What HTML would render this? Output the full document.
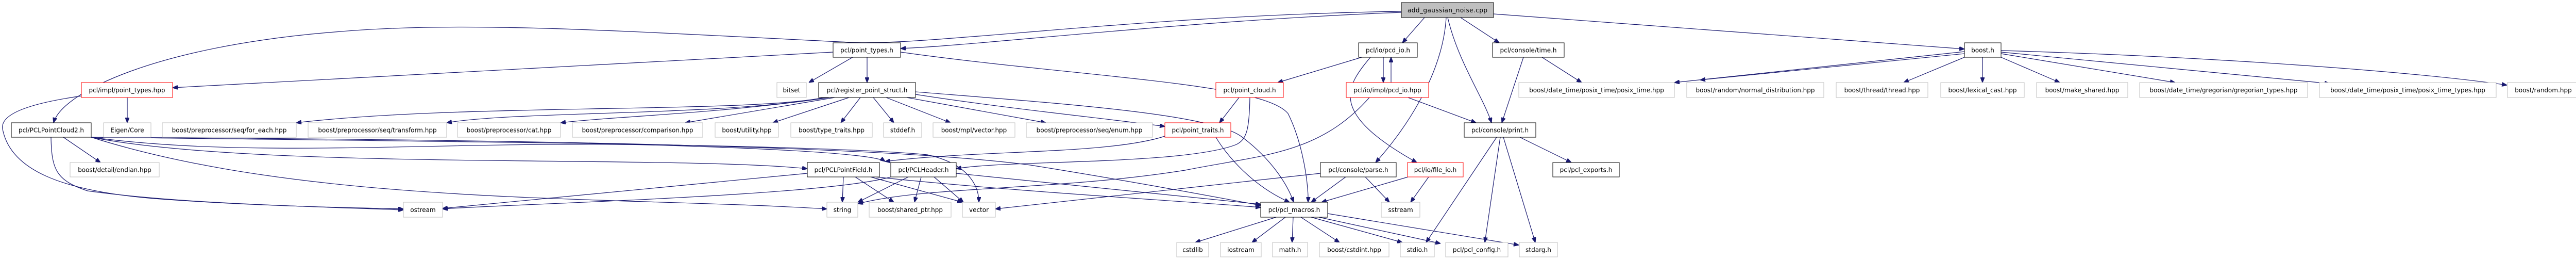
<!DOCTYPE html>
<html><head><meta charset="utf-8"><style>
html,body{margin:0;padding:0;background:#fff;}
svg{display:block;}
text{font-family:"DejaVu Sans","Liberation Sans",sans-serif;font-size:12px;fill:#000;}
.n rect{fill:#fff;stroke-width:1;}
.k{stroke:#000;} .r{stroke:#ff0000;} .g{stroke:#bfbfbf;}
path{fill:none;stroke:#191970;stroke-width:1.2;}
</style></head><body>
<svg width="5012" height="504" viewBox="0 0 5012 504" xmlns="http://www.w3.org/2000/svg">
<defs><marker id="a" viewBox="0 0 10 8" refX="10" refY="4" markerWidth="10" markerHeight="8" markerUnits="userSpaceOnUse" orient="auto"><path d="M0,0 L10,4 L0,8 z" style="fill:#191970;stroke:#191970"/></marker></defs>
<g marker-end="url(#a)">
<!-- from add_gaussian_noise.cpp -->
<path d="M2720,24 C2300,40 1900,88 1748,94"/>
<path d="M2720,22 C2200,30 1800,90 1650,82 C1200,60 900,40 650,62 C300,90 120,180 104,238"/>
<path d="M2765,34 L2722,83"/>
<path d="M2810,34 C2830,120 2880,190 2895,238"/>
<path d="M2835,34 L2910,83"/>
<path d="M2807,34 C2800,150 2720,260 2670,315"/>
<path d="M2899,27 L3813,95"/>
<!-- point_types.h -->
<path d="M1617,101 L335,170"/>
<path d="M1655,111 L1570,160"/>
<path d="M1683,111 L1683,160"/>
<path d="M1748,101 C2100,150 2450,160 2500,220 C2530,280 2540,360 2539,392"/>
<!-- register_point_struct -->
<path d="M1600,189 C1450,220 900,200 575,238"/>
<path d="M1605,189 C1400,225 1000,215 867,238"/>
<path d="M1610,189 C1400,220 1200,225 1088,238"/>
<path d="M1620,189 L1330,238"/>
<path d="M1648,189 L1500,238"/>
<path d="M1670,189 L1632,238"/>
<path d="M1695,189 L1735,238"/>
<path d="M1720,189 L1845,238"/>
<path d="M1760,189 L2030,238"/>
<path d="M1777,183 C1950,210 2150,230 2261,245"/>
<path d="M1777,178 C2050,200 2350,220 2410,265 C2470,310 2500,360 2511,392"/>
<!-- impl/point_types.hpp -->
<path d="M247,189 L247,238"/>
<path d="M158,186 C60,200 0,220 5,250 C20,330 120,370 300,385 C500,400 700,403 783,405"/>
<!-- PCLPointCloud2 -->
<path d="M123,266 L195,315"/>
<path d="M99,266 C100,330 110,350 170,370 C350,395 600,400 783,407"/>
<path d="M177,266 C600,400 1200,380 1605,405"/>
<path d="M177,266 C500,330 1300,300 1567,327"/>
<path d="M177,266 C500,310 900,270 1300,282 C1550,290 1700,300 1718,313"/>
<path d="M177,266 C900,275 1600,280 1800,300 C1890,320 1900,370 1900,392"/>
<path d="M177,266 C900,270 1700,280 2000,320 C2250,360 2400,390 2447,398"/>
<!-- PCLPointField -->
<path d="M1567,336 L859,404"/>
<path d="M1637,343 L1635,392"/>
<path d="M1660,343 L1735,392"/>
<path d="M1690,343 L1868,392"/>
<path d="M1700,343 C1950,370 2300,390 2447,402"/>
<!-- PCLHeader -->
<path d="M1729,343 C1600,380 1000,395 859,405"/>
<path d="M1763,343 L1665,392"/>
<path d="M1788,343 L1775,392"/>
<path d="M1813,343 L1870,392"/>
<path d="M1856,336 L2447,396"/>
<!-- point_cloud.h -->
<path d="M2405,189 L2367,238"/>
<path d="M2426,189 C2425,250 2420,270 2400,280 C2300,320 1950,310 1856,327"/>
<!-- point_traits -->
<path d="M2261,264 C2150,300 1900,290 1718,313"/>
<path d="M2360,266 C2380,300 2430,360 2503,392"/>
<!-- pcd_io.h -->
<path d="M2643,111 L2480,160"/>
<path d="M2685,111 L2685,160"/>
<path d="M2700,160 L2700,111"/>
<path d="M2660,111 C2610,170 2580,220 2750,315"/>
<!-- pcd_io.hpp -->
<path d="M2733,189 L2865,238"/>
<path d="M2658,189 C2560,300 2450,300 2300,330 C2050,370 1800,360 1665,395"/>
<!-- file_io, parse -->
<path d="M2733,343 L2565,392"/>
<path d="M2773,343 L2738,392"/>
<path d="M2563,336 L1932,405"/>
<path d="M2612,343 L2545,392"/>
<path d="M2650,343 L2697,392"/>
<!-- time.h -->
<path d="M2957,111 L2915,238"/>
<path d="M2993,111 L3070,160"/>
<!-- boost.h -->
<path d="M3813,100 L3250,160"/>
<path d="M3813,104 L3300,155"/>
<path d="M3813,111 L3695,160"/>
<path d="M3848,111 L3848,160"/>
<path d="M3884,111 L3998,160"/>
<path d="M3884,104 L4222,160"/>
<path d="M3884,101 L4522,162"/>
<path d="M3884,98 C4300,110 4700,140 4866,165"/>
<!-- print.h -->
<path d="M2950,266 L3050,315"/>
<path d="M2905,266 L2768,470"/>
<path d="M2912,266 L2882,470"/>
<path d="M2918,266 L2980,470"/>
<!-- pcl_macros -->
<path d="M2477,421 L2320,470"/>
<path d="M2495,421 L2430,470"/>
<path d="M2510,421 L2508,470"/>
<path d="M2525,421 L2600,470"/>
<path d="M2545,421 L2722,470"/>
<path d="M2560,421 L2796,472"/>
<path d="M2577,414 L2948,475"/>
</g>
<g class="n">
<rect x="2720" y="5" width="179" height="29" class="k" style="fill:#bfbfbf"/><text x="2809.5" y="24" text-anchor="middle" textLength="155">add_gaussian_noise.cpp</text>
<rect x="1617" y="83" width="131" height="28" class="k"/><text x="1682.5" y="101.5" text-anchor="middle">pcl/point_types.h</text>
<rect x="2637" y="83" width="114" height="28" class="k"/><text x="2694" y="101.5" text-anchor="middle">pcl/io/pcd_io.h</text>
<rect x="2897" y="83" width="139" height="28" class="k"/><text x="2966.5" y="101.5" text-anchor="middle">pcl/console/time.h</text>
<rect x="3813" y="83" width="71" height="28" class="k"/><text x="3848.5" y="101.5" text-anchor="middle">boost.h</text>
<rect x="158" y="160" width="177" height="29" class="r"/><text x="246.5" y="179" text-anchor="middle">pcl/impl/point_types.hpp</text>
<rect x="1508" y="160" width="57" height="29" class="g"/><text x="1536.5" y="179" text-anchor="middle">bitset</text>
<rect x="1589" y="160" width="188" height="29" class="k"/><text x="1683" y="179" text-anchor="middle">pcl/register_point_struct.h</text>
<rect x="2360" y="160" width="131" height="29" class="r"/><text x="2425.5" y="179" text-anchor="middle">pcl/point_cloud.h</text>
<rect x="2613" y="160" width="160" height="29" class="r"/><text x="2693" y="179" text-anchor="middle">pcl/io/impl/pcd_io.hpp</text>
<rect x="2948" y="160" width="302" height="29" class="g"/><text x="3099" y="179" text-anchor="middle">boost/date_time/posix_time/posix_time.hpp</text>
<rect x="3274" y="160" width="266" height="29" class="g"/><text x="3407" y="179" text-anchor="middle">boost/random/normal_distribution.hpp</text>
<rect x="3564" y="160" width="178" height="29" class="g"/><text x="3653" y="179" text-anchor="middle">boost/thread/thread.hpp</text>
<rect x="3767" y="160" width="162" height="29" class="g"/><text x="3848" y="179" text-anchor="middle">boost/lexical_cast.hpp</text>
<rect x="3953" y="160" width="177" height="29" class="g"/><text x="4041.5" y="179" text-anchor="middle">boost/make_shared.hpp</text>
<rect x="4153" y="160" width="326" height="29" class="g"/><text x="4316" y="179" text-anchor="middle">boost/date_time/gregorian/gregorian_types.hpp</text>
<rect x="4502" y="160" width="343" height="29" class="g"/><text x="4673.5" y="179" text-anchor="middle">boost/date_time/posix_time/posix_time_types.hpp</text>
<rect x="4867" y="160" width="139" height="29" class="g"/><text x="4936.5" y="179" text-anchor="middle">boost/random.hpp</text>
<rect x="22" y="238" width="155" height="28" class="k"/><text x="99.5" y="256.5" text-anchor="middle">pcl/PCLPointCloud2.h</text>
<rect x="201" y="238" width="92" height="28" class="g"/><text x="247" y="256.5" text-anchor="middle">Eigen/Core</text>
<rect x="315" y="238" width="260" height="28" class="g"/><text x="445" y="256.5" text-anchor="middle">boost/preprocessor/seq/for_each.hpp</text>
<rect x="598" y="238" width="269" height="28" class="g"/><text x="732.5" y="256.5" text-anchor="middle">boost/preprocessor/seq/transform.hpp</text>
<rect x="888" y="238" width="200" height="28" class="g"/><text x="988" y="256.5" text-anchor="middle">boost/preprocessor/cat.hpp</text>
<rect x="1111" y="238" width="253" height="28" class="g"/><text x="1237.5" y="256.5" text-anchor="middle">boost/preprocessor/comparison.hpp</text>
<rect x="1388" y="238" width="123" height="28" class="g"/><text x="1449.5" y="256.5" text-anchor="middle">boost/utility.hpp</text>
<rect x="1535" y="238" width="158" height="28" class="g"/><text x="1614" y="256.5" text-anchor="middle">boost/type_traits.hpp</text>
<rect x="1715" y="238" width="74" height="28" class="g"/><text x="1752" y="256.5" text-anchor="middle">stddef.h</text>
<rect x="1811" y="238" width="159" height="28" class="g"/><text x="1890.5" y="256.5" text-anchor="middle">boost/mpl/vector.hpp</text>
<rect x="1992" y="238" width="245" height="28" class="g"/><text x="2114.5" y="256.5" text-anchor="middle">boost/preprocessor/seq/enum.hpp</text>
<rect x="2261" y="238" width="128" height="28" class="r"/><text x="2325" y="256.5" text-anchor="middle">pcl/point_traits.h</text>
<rect x="2842" y="238" width="139" height="28" class="k"/><text x="2911.5" y="256.5" text-anchor="middle">pcl/console/print.h</text>
<rect x="136" y="315" width="173" height="28" class="g"/><text x="222.5" y="333.5" text-anchor="middle">boost/detail/endian.hpp</text>
<rect x="1567" y="315" width="140" height="28" class="k"/><text x="1637" y="333.5" text-anchor="middle">pcl/PCLPointField.h</text>
<rect x="1729" y="315" width="127" height="28" class="k"/><text x="1792.5" y="333.5" text-anchor="middle">pcl/PCLHeader.h</text>
<rect x="2563" y="315" width="147" height="28" class="k"/><text x="2636.5" y="333.5" text-anchor="middle">pcl/console/parse.h</text>
<rect x="2732" y="315" width="108" height="28" class="r"/><text x="2786" y="333.5" text-anchor="middle">pcl/io/file_io.h</text>
<rect x="3014" y="315" width="129" height="28" class="k"/><text x="3078.5" y="333.5" text-anchor="middle">pcl/pcl_exports.h</text>
<rect x="783" y="392" width="76" height="29" class="g"/><text x="821" y="411" text-anchor="middle">ostream</text>
<rect x="1605" y="392" width="60" height="29" class="g"/><text x="1635" y="411" text-anchor="middle">string</text>
<rect x="1687" y="392" width="159" height="29" class="g"/><text x="1766.5" y="411" text-anchor="middle">boost/shared_ptr.hpp</text>
<rect x="1868" y="392" width="64" height="29" class="g"/><text x="1900" y="411" text-anchor="middle">vector</text>
<rect x="2447" y="392" width="130" height="29" class="k"/><text x="2512" y="411" text-anchor="middle">pcl/pcl_macros.h</text>
<rect x="2681" y="392" width="75" height="29" class="g"/><text x="2718.5" y="411" text-anchor="middle">sstream</text>
<rect x="2284" y="470" width="62" height="28" class="g"/><text x="2315" y="488.5" text-anchor="middle">cstdlib</text>
<rect x="2369" y="470" width="79" height="28" class="g"/><text x="2408.5" y="488.5" text-anchor="middle">iostream</text>
<rect x="2470" y="470" width="68" height="28" class="g"/><text x="2504" y="488.5" text-anchor="middle">math.h</text>
<rect x="2561" y="470" width="135" height="28" class="g"/><text x="2628.5" y="488.5" text-anchor="middle">boost/cstdint.hpp</text>
<rect x="2718" y="470" width="66" height="28" class="g"/><text x="2751" y="488.5" text-anchor="middle">stdio.h</text>
<rect x="2806" y="470" width="121" height="28" class="g"/><text x="2866.5" y="488.5" text-anchor="middle">pcl/pcl_config.h</text>
<rect x="2949" y="470" width="74" height="28" class="g"/><text x="2986" y="488.5" text-anchor="middle">stdarg.h</text>
</g>
</svg>
</body></html>
